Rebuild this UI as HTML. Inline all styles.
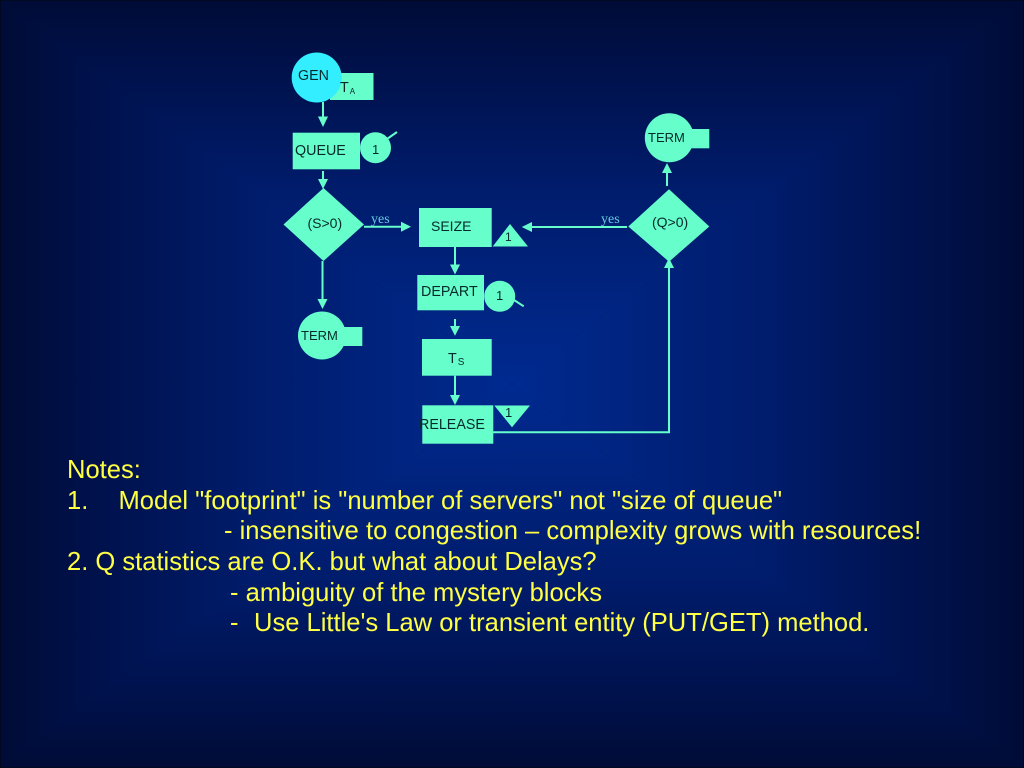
<!DOCTYPE html>
<html>
<head>
<meta charset="utf-8">
<style>
html,body{margin:0;padding:0;background:#000c36;}
svg{display:block;}
text{font-family:"Liberation Sans",sans-serif;}
.n{font-size:14.3px;fill:#062a2a;}
.s{font-size:13px;fill:#062a2a;}
.m{font-size:14px;fill:#062a2a;}
.y{font-family:"Liberation Serif",serif;font-size:14px;fill:#66ccdd;}
.t{font-size:25.55px;fill:#ffff44;}
.f{fill:#66ffcc;}
.l{stroke:#66ffcc;stroke-width:2;fill:none;}
</style>
</head>
<body>
<svg width="1024" height="768" viewBox="0 0 1024 768" xmlns="http://www.w3.org/2000/svg">
<defs>
<linearGradient id="gt" gradientUnits="userSpaceOnUse" x1="0" y1="0" x2="0" y2="384"><stop offset="0" stop-color="#000c36"/><stop offset=".15" stop-color="#001048"/><stop offset=".5" stop-color="#001c6c"/><stop offset="1" stop-color="#002a90"/></linearGradient>
<linearGradient id="gb" gradientUnits="userSpaceOnUse" x1="0" y1="768" x2="0" y2="384"><stop offset="0" stop-color="#000c36"/><stop offset=".15" stop-color="#001048"/><stop offset=".5" stop-color="#001c6c"/><stop offset="1" stop-color="#002a90"/></linearGradient>
<linearGradient id="gl" gradientUnits="userSpaceOnUse" x1="0" y1="0" x2="512" y2="0"><stop offset="0" stop-color="#000c36"/><stop offset=".15" stop-color="#001048"/><stop offset=".5" stop-color="#001c6c"/><stop offset="1" stop-color="#002a90"/></linearGradient>
<linearGradient id="gr" gradientUnits="userSpaceOnUse" x1="1024" y1="0" x2="512" y2="0"><stop offset="0" stop-color="#000c36"/><stop offset=".15" stop-color="#001048"/><stop offset=".5" stop-color="#001c6c"/><stop offset="1" stop-color="#002a90"/></linearGradient>
</defs>
<rect width="1024" height="768" fill="#000c36"/>
<polygon points="0,0 1024,0 512,384" fill="url(#gt)"/>
<polygon points="0,768 1024,768 512,384" fill="url(#gb)"/>
<polygon points="0,0 0,768 512,384" fill="url(#gl)"/>
<polygon points="1024,0 1024,768 512,384" fill="url(#gr)"/>
<rect x="0.5" y="0.5" width="1023" height="767" fill="none" stroke="#000822" stroke-width="1"/>

<!-- GEN -->
<rect class="f" x="330" y="73" width="43.5" height="27"/>
<circle cx="316.7" cy="77.5" r="25" fill="#33eeff"/>
<text class="n" x="298" y="80">GEN</text>
<text class="n" x="340" y="92">T<tspan font-size="8" dx="1" dy="2">A</tspan></text>

<!-- GEN to QUEUE -->
<line class="l" x1="323" y1="102" x2="323" y2="118"/>
<polygon class="f" points="323,127 318,116.5 328,116.5"/>

<!-- QUEUE -->
<rect class="f" x="292.7" y="132.7" width="67.3" height="36.6"/>
<text class="n" x="295" y="155">QUEUE</text>
<circle class="f" cx="375.5" cy="147.7" r="15.5"/>
<line class="l" x1="387" y1="139" x2="397" y2="132"/>
<text class="s" x="372" y="154">1</text>

<line class="l" x1="323" y1="171" x2="323" y2="180"/>
<polygon class="f" points="323,189 318,179 328,179"/>

<!-- S>0 diamond -->
<polygon class="f" points="283.5,224.5 323.5,188 364,224.5 323.5,261"/>
<text class="m" x="307.5" y="228">(S&gt;0)</text>
<line class="l" x1="364" y1="226.7" x2="403" y2="226.7"/>
<polygon class="f" points="411,226.7 401,221.7 401,231.7"/>
<text class="y" x="371" y="223">yes</text>

<!-- SEIZE -->
<rect class="f" x="419" y="208" width="72.7" height="39"/>
<text class="m" x="431" y="231">SEIZE</text>
<polygon class="f" points="510,224 528,246.5 492.7,246.5"/>
<text x="505" y="241" fill="#062a2a" style="font-size:12px">1</text>

<!-- left arrow -->
<line class="l" x1="627" y1="227" x2="530" y2="227"/>
<polygon class="f" points="521.7,227 532,222 532,232"/>
<text class="y" x="601" y="223">yes</text>

<!-- Q>0 diamond -->
<polygon class="f" points="628.3,226.5 669,189.3 709.3,226.5 669,261.7"/>
<text class="m" x="652" y="227">(Q&gt;0)</text>

<!-- up arrow to TERM -->
<line class="l" x1="667" y1="186" x2="667" y2="170"/>
<polygon class="f" points="667,163 662,173 672,173"/>

<!-- TERM right -->
<rect class="f" x="680" y="129" width="29.3" height="19.3"/>
<circle class="f" cx="669.3" cy="137.8" r="24.5"/>
<text class="s" x="648" y="142">TERM</text>

<!-- S>0 to TERM -->
<line class="l" x1="322.5" y1="261" x2="322.5" y2="301"/>
<polygon class="f" points="322.5,309 317.5,299 327.5,299"/>

<!-- TERM left -->
<rect class="f" x="335" y="327" width="27.3" height="19"/>
<circle class="f" cx="322" cy="335.5" r="24"/>
<text class="s" x="301" y="340">TERM</text>

<!-- SEIZE to DEPART -->
<line class="l" x1="455" y1="247" x2="455" y2="266"/>
<polygon class="f" points="455,274.5 450,264.5 460,264.5"/>

<!-- DEPART -->
<rect class="f" x="417.3" y="275" width="66.7" height="35.3"/>
<text class="n" x="421" y="296">DEPART</text>
<circle class="f" cx="499.7" cy="296.3" r="15.5"/>
<line class="l" x1="514" y1="300" x2="523.7" y2="306.3"/>
<text class="s" x="496" y="300">1</text>

<line class="l" x1="455" y1="319" x2="455" y2="328"/>
<polygon class="f" points="455,335.7 450,326 460,326"/>

<!-- Ts -->
<rect class="f" x="422" y="339" width="69.7" height="36.7"/>
<text class="n" x="448" y="363">T<tspan font-size="10" dx="1" dy="2">S</tspan></text>

<line class="l" x1="455" y1="375.7" x2="455" y2="397"/>
<polygon class="f" points="455,405 450,395 460,395"/>

<!-- RELEASE -->
<rect class="f" x="422.3" y="405.3" width="71" height="38.4"/>
<text class="n" x="419" y="429">RELEASE</text>
<polygon class="f" points="494.3,405.5 530,405.5 512,427.3"/>
<text class="s" x="505" y="417">1</text>

<!-- RELEASE to Q -->
<polyline class="l" points="493,432.3 669,432.3 669,266"/>
<polygon class="f" points="669,258 664,268 674,268"/>

<!-- Notes -->
<text class="t" x="67" y="478">Notes:</text>
<text class="t" x="67" y="509">1.</text>
<text class="t" x="118.5" y="509">Model "footprint" is "number of servers" not "size of queue"</text>
<text class="t" x="224" y="539">- insensitive to congestion – complexity grows with resources!</text>
<text class="t" x="67" y="570">2. Q statistics are O.K. but what about Delays?</text>
<text class="t" x="230" y="601">- ambiguity of the mystery blocks</text>
<text class="t" x="230" y="631">-</text>
<text class="t" x="254" y="631">Use Little's Law or transient entity (PUT/GET) method.</text>
</svg>
</body>
</html>
